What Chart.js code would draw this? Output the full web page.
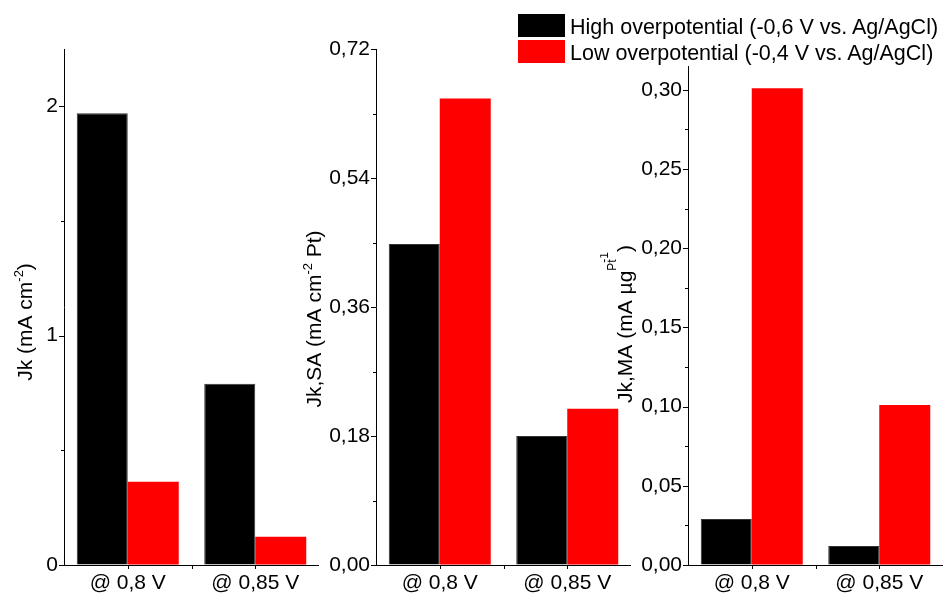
<!DOCTYPE html>
<html>
<head>
<meta charset="utf-8">
<script src="https://cdn.jsdelivr.net/npm/chart.js@4"></script>
<style>
  html, body { margin: 0; padding: 0; background: #fff; }
  body { width: 943px; height: 593px; position: relative; overflow: hidden; font-family: "Liberation Sans", Arial, sans-serif; }
  canvas { position: absolute; top: 0; }
  .leg { position: absolute; left: 518px; height: 23px; display: flex; align-items: center; font-size: 21.5px; color: #000; white-space: nowrap; }
  .leg span.box { display: inline-block; width: 47px; height: 23px; margin-right: 5px; }
</style>
</head>
<body>
<canvas id="c1" width="319" height="593" style="left:0px"></canvas>
<canvas id="c2" width="341" height="593" style="left:290px"></canvas>
<canvas id="c3" width="343" height="593" style="left:600px"></canvas>
<div id="legend"></div>
<script>
// categories and series
var categories = ["@ 0,8 V", "@ 0,85 V"];
var seriesNames = ["High overpotential (-0,6 V vs. Ag/AgCl)", "Low overpotential (-0,4 V vs. Ag/AgCl)"];
var seriesColors = ["#000000", "#ff0000"];

// Jk (mA cm-2)
var jkHigh = [1.97, 0.79];
var jkLow = [0.363, 0.123];
// Jk,SA (mA cm-2 Pt)
var saHigh = [0.448, 0.180];
var saLow = [0.651, 0.218];
// Jk,MA (mA ugPt-1)
var maHigh = [0.029, 0.012];
var maLow = [0.301, 0.101];

// tick labels (major) per panel
var jkTicks = [0, 1, 2];
var saTicks = [0, 0.18, 0.36, 0.54, 0.72];
var maTicks = [0, 0.05, 0.10, 0.15, 0.20, 0.25, 0.30];

var FONT = "'Liberation Sans', Arial, sans-serif";

// draws tick marks (major + minor) on both axes
var tickMarks = {
  id: "tickMarks",
  afterDraw: function (chart) {
    var ctx = chart.ctx, xs = chart.scales.x, ys = chart.scales.y;
    ctx.save();
    ctx.strokeStyle = "#000";
    ctx.lineWidth = 1;
    ctx.beginPath();
    ys.ticks.forEach(function (t) {
      var py = Math.round(ys.getPixelForValue(t.value)) + 0.5;
      var len = t.label !== "" ? 5 : 3;
      ctx.moveTo(ys.right - len, py);
      ctx.lineTo(ys.right, py);
    });
    for (var i = 0; i < categories.length; i++) {
      var px = Math.round(xs.getPixelForValue(i)) + 0.5;
      ctx.moveTo(px, xs.top);
      ctx.lineTo(px, xs.top + 4);
      if (i < categories.length - 1) {
        var mid = Math.round((xs.getPixelForValue(i) + xs.getPixelForValue(i + 1)) / 2) + 0.5;
        ctx.moveTo(mid, xs.top);
        ctx.lineTo(mid, xs.top + 4);
      }
    }
    ctx.stroke();
    ctx.restore();
  }
};

// rotated y title with super/subscripts
// part: t, raise (px above baseline), size, stack (drawn from previous start + dx)
var richTitle = {
  id: "richTitle",
  afterDraw: function (chart, args, opts) {
    if (!opts.parts) return;
    var ctx = chart.ctx;
    ctx.save();
    ctx.fillStyle = "#000";
    ctx.textBaseline = "alphabetic";
    // layout pass
    var cx = 0, prevStart = 0;
    opts.parts.forEach(function (p) {
      ctx.font = (p.size || 21) + "px " + FONT;
      p.w = ctx.measureText(p.t).width;
      var start = p.stack ? prevStart + (p.dx || 0) : cx;
      p.x0 = start;
      cx = Math.max(cx, start + p.w);
      prevStart = start;
    });
    var total = cx;
    ctx.translate(opts.x, opts.y);
    ctx.rotate(-Math.PI / 2);
    opts.parts.forEach(function (p) {
      ctx.font = (p.size || 21) + "px " + FONT;
      ctx.fillText(p.t, p.x0 - total / 2, -(p.raise || 0));
    });
    ctx.restore();
  }
};

function fmt(dec) {
  return function (v) { return v.toFixed(dec).replace(".", ","); };
}

function makePanel(id, high, low, majors, yMax, dec, axisWidth, topPad, titleParts, titleX, titleY) {
  var step = majors[1] - majors[0];
  var all = [];
  majors.forEach(function (m, i) {
    all.push(m);
    if (i < majors.length - 1) all.push(m + step / 2);
  });
  var f = fmt(dec);
  return new Chart(document.getElementById(id), {
    type: "bar",
    data: {
      labels: categories,
      datasets: [
        { label: seriesNames[0], data: high, backgroundColor: seriesColors[0], borderColor: "#333", borderWidth: 1 },
        { label: seriesNames[1], data: low, backgroundColor: seriesColors[1], borderWidth: 0 }
      ]
    },
    options: {
      responsive: false,
      animation: false,
      layout: { padding: { top: topPad, left: 0, right: 0, bottom: 0 } },
      datasets: { bar: { categoryPercentage: 0.8, barPercentage: 1.0 } },
      plugins: {
        legend: { display: false },
        tooltip: { enabled: false },
        richTitle: { parts: titleParts, x: titleX, y: titleY }
      },
      scales: {
        x: {
          offset: true,
          grid: { display: true, drawOnChartArea: false, color: "rgba(0,0,0,0)", tickLength: 4 },
          border: { display: true, color: "#000", width: 1 },
          ticks: { color: "#000", font: { family: FONT, size: 21 }, padding: 2, maxRotation: 0 },
          afterFit: function (s) { s.height = 28; }
        },
        y: {
          min: 0,
          max: yMax,
          grid: { display: true, drawOnChartArea: false, color: "rgba(0,0,0,0)", tickLength: 5 },
          border: { display: true, color: "#000", width: 1 },
          afterBuildTicks: function (s) {
            s.ticks = all.map(function (v) { return { value: v }; });
          },
          ticks: {
            color: "#000",
            font: { family: FONT, size: 21 },
            padding: 1,
            callback: function (v) {
              for (var i = 0; i < majors.length; i++) {
                if (Math.abs(majors[i] - v) < 1e-9) return f(v);
              }
              return "";
            }
          },
          afterFit: function (s) { s.width = axisWidth; }
        }
      }
    },
    plugins: [tickMarks, richTitle]
  });
}

makePanel("c1", jkHigh, jkLow, jkTicks, 2.25, 0, 64, 49,
  [{ t: "Jk (mA cm" }, { t: "-2", raise: 9, size: 13 }, { t: ")" }], 32, 322);
makePanel("c2", saHigh, saLow, saTicks, 0.72, 2, 86, 49,
  [{ t: "Jk,SA (mA cm" }, { t: "-2", raise: 9, size: 13 }, { t: " Pt)" }], 31, 319);
makePanel("c3", maHigh, maLow, maTicks, 0.315, 2, 88, 66,
  [{ t: "Jk,MA (mA \u00b5g" }, { t: "Pt", raise: 16, size: 12 },
   { t: "-1", raise: 24, size: 12, stack: true, dx: 8 }, { t: ")" }], 32, 324);

// legend
var leg = document.getElementById("legend");
seriesNames.forEach(function (name, i) {
  var row = document.createElement("div");
  row.className = "leg";
  row.style.top = (14 + i * 26) + "px";
  var box = document.createElement("span");
  box.className = "box";
  box.style.background = seriesColors[i];
  var txt = document.createElement("span");
  txt.textContent = name;
  txt.style.position = "relative";
  txt.style.top = "2px";
  row.appendChild(box);
  row.appendChild(txt);
  leg.appendChild(row);
});
</script>
</body>
</html>
